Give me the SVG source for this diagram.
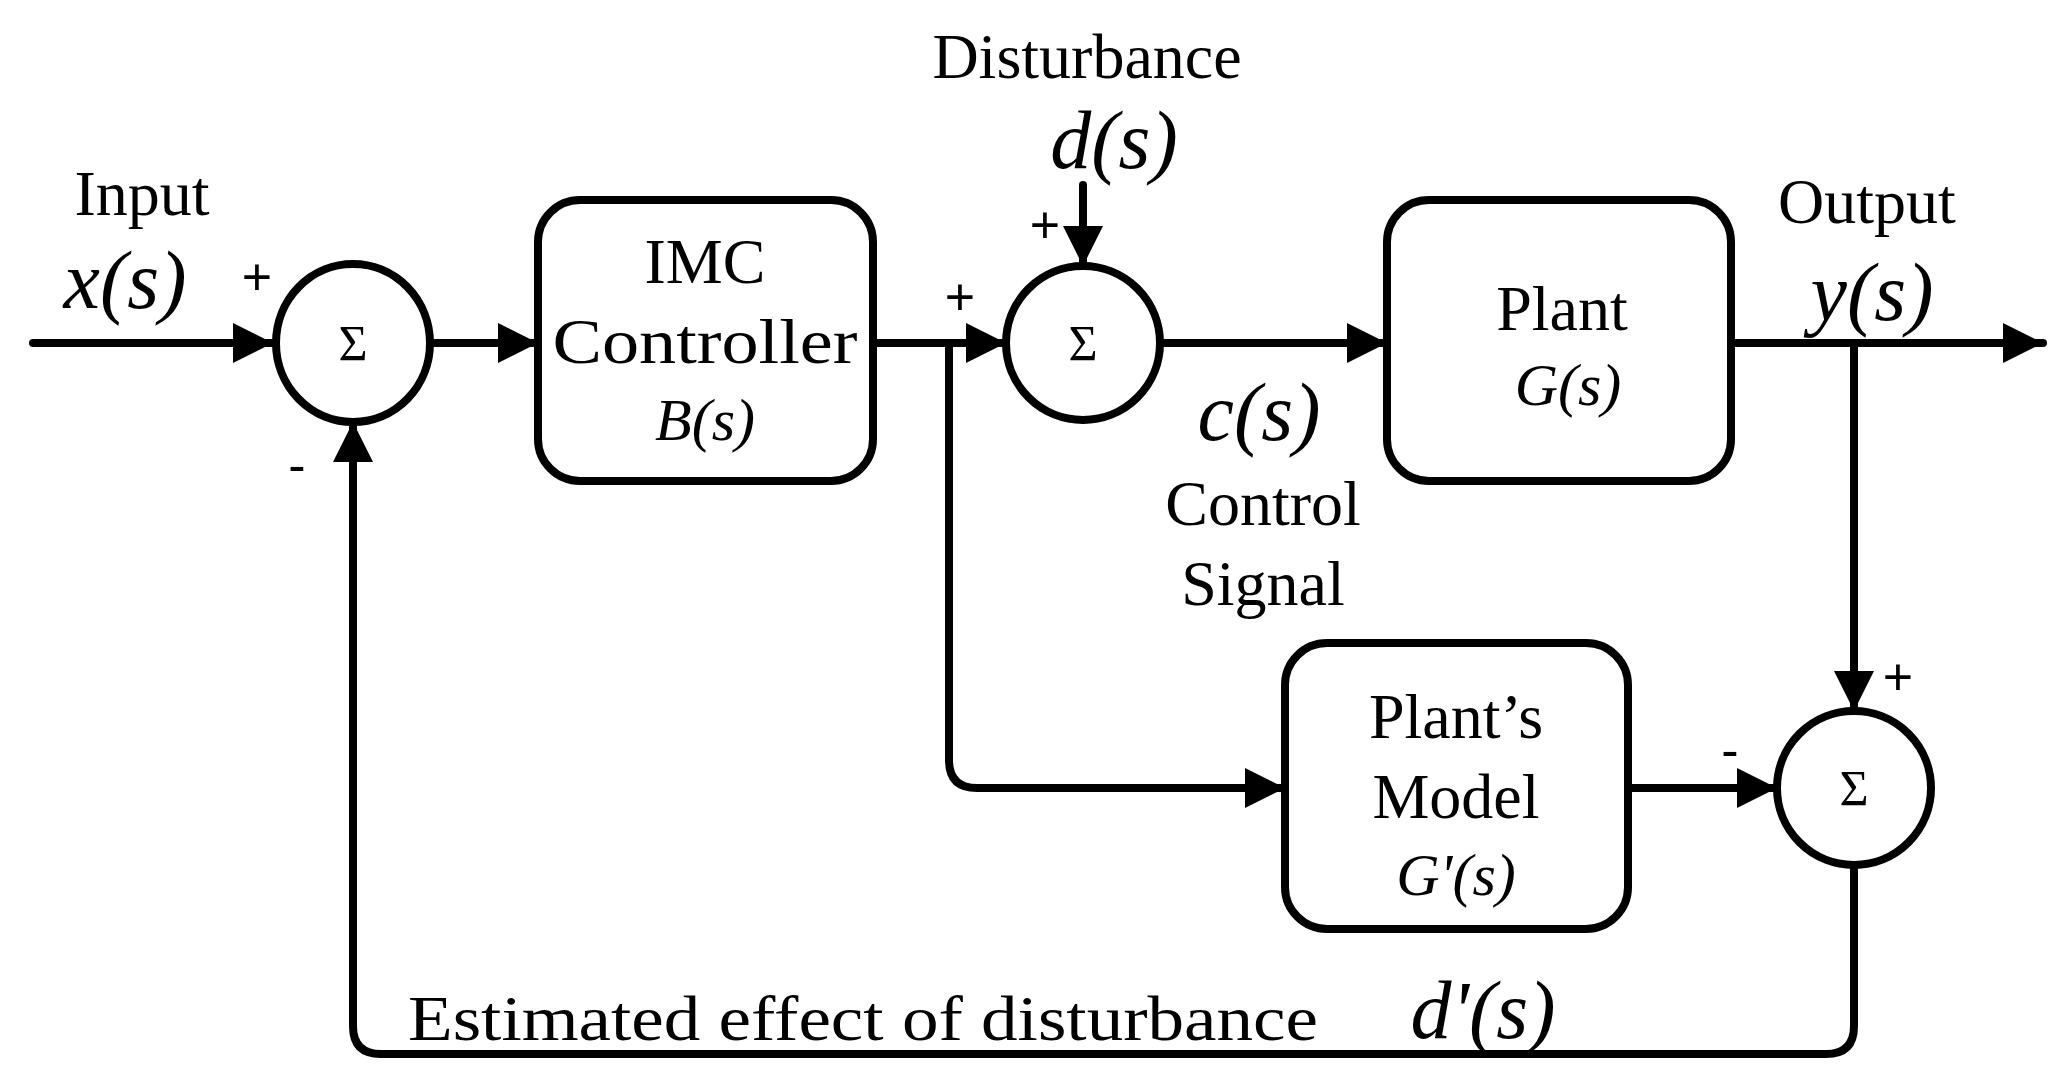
<svg xmlns="http://www.w3.org/2000/svg" width="2056" height="1083" viewBox="0 0 2056 1083">
<style>
.l{fill:none;stroke:#000;stroke-width:8;stroke-linecap:round;stroke-linejoin:round}
.b{fill:#fff;stroke:#000;stroke-width:8}
.t{font-family:"Liberation Serif",serif;font-size:64px;text-anchor:middle;fill:#000}
.m{font-family:"Liberation Serif",serif;font-style:italic;font-size:82px;text-anchor:middle;fill:#000}
.ms{font-family:"Liberation Serif",serif;font-style:italic;font-size:60px;text-anchor:middle;fill:#000}
.s{font-family:"Liberation Serif",serif;font-size:50px;text-anchor:middle;fill:#000}
.p{font-family:"Liberation Sans",sans-serif;font-size:52px;text-anchor:middle;fill:#000}
</style>
<defs>
<marker id="a" viewBox="0 0 10 10" refX="10" refY="5" markerWidth="5" markerHeight="6" markerUnits="strokeWidth" orient="auto"><path d="M0,0L10,5L0,10z" fill="#000"/></marker>
</defs>
<g id="connectors">
<path class="l" d="M33,343H273" marker-end="url(#a)"/>
<path class="l" d="M432,343H538" marker-end="url(#a)"/>
<path class="l" d="M873,343H1006" marker-end="url(#a)"/>
<path class="l" d="M1083,185V266" marker-end="url(#a)"/>
<path class="l" d="M1160,343H1387" marker-end="url(#a)"/>
<path class="l" d="M1731,343H2043" marker-end="url(#a)"/>
<path class="l" d="M1854,343V711" marker-end="url(#a)"/>
<path class="l" d="M949,343V760Q949,788 977,788H1285" marker-end="url(#a)"/>
<path class="l" d="M1628,788H1777" marker-end="url(#a)"/>
<path class="l" d="M1854,865V1026Q1854,1054 1826,1054H381Q353,1054 353,1026V422" marker-end="url(#a)"/>
</g>
<g id="sum1"><ellipse class="b" cx="353" cy="343" rx="77" ry="79"/><text class="s" x="353" y="360">Σ</text></g>
<g id="sum2"><ellipse class="b" cx="1083" cy="343" rx="77" ry="77"/><text class="s" x="1083" y="360">Σ</text></g>
<g id="sum3"><ellipse class="b" cx="1854" cy="788" rx="77" ry="77"/><text class="s" x="1854" y="805">Σ</text></g>
<g id="imc"><rect class="b" x="538" y="200" width="335" height="281" rx="42"/>
<text class="t" x="705" y="283">IMC</text><text class="t" x="705" y="363" textLength="305" lengthAdjust="spacingAndGlyphs">Controller</text><text class="ms" x="705" y="440">B(s)</text></g>
<g id="plant"><rect class="b" x="1387" y="200" width="344" height="281" rx="42"/>
<text class="t" x="1562" y="330">Plant</text><text class="ms" x="1568" y="405">G(s)</text></g>
<g id="model"><rect class="b" x="1285" y="643" width="343" height="286" rx="42"/>
<text class="t" x="1456" y="738">Plant’s</text><text class="t" x="1456" y="818">Model</text><text class="ms" x="1456" y="895">G'(s)</text></g>
<g id="labels">
<text class="t" x="142" y="215">Input</text>
<text class="m" x="125" y="308">x(s)</text>
<text class="p" x="257" y="295">+</text>
<text class="p" x="297" y="483">-</text>
<text class="p" x="960" y="315">+</text>
<text class="t" x="1087" y="78">Disturbance</text>
<text class="m" x="1114" y="168">d(s)</text>
<text class="p" x="1045" y="243">+</text>
<text class="m" x="1259" y="440">c(s)</text>
<text class="t" x="1263" y="525">Control</text>
<text class="t" x="1263" y="605">Signal</text>
<text class="t" x="1867" y="223">Output</text>
<text class="m" x="1872" y="320">y(s)</text>
<text class="p" x="1898" y="695">+</text>
<text class="p" x="1730" y="768">-</text>
<text class="t" x="408" y="1040" textLength="910" lengthAdjust="spacingAndGlyphs" style="text-anchor:start">Estimated effect of disturbance</text>
<text class="m" x="1483" y="1038">d'(s)</text>
</g>
</svg>
